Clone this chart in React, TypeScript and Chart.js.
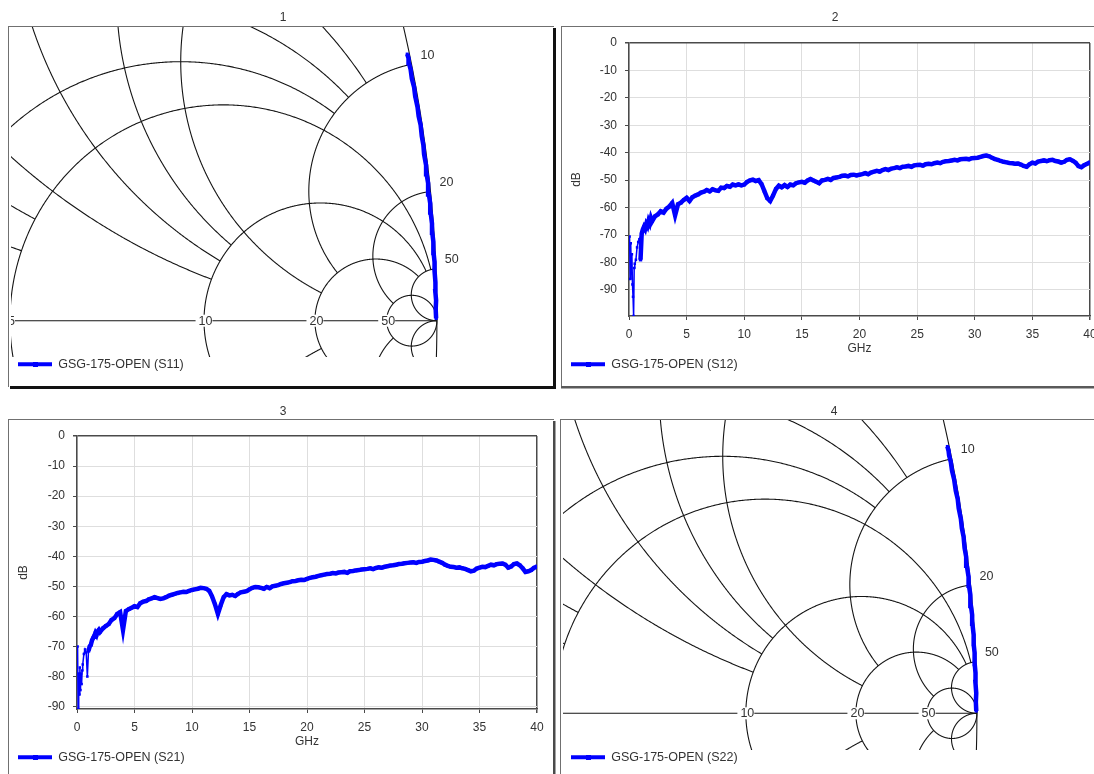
import React, { useEffect, useRef } from "react";
import { Chart, registerables } from "chart.js";

Chart.register(...registerables);

const FONT = '"Liberation Sans", Arial, Helvetica, sans-serif';
const TEXT = "#333333";
const BLUE = "#0000ff";
const PLOT_BORDER = "#4a4a4a";
const PLOT_GRID = "#dedede";
const SMITH_LINE = "#151515";
const FRAME_LINE = "#707070";
const LEGEND_FONT_SIZE = 12.5;

// ---------------- data ----------------
const FREQ_GHZ = [
  0.05, 0.1, 0.15, 0.2, 0.25, 0.3, 0.35, 0.4, 0.45, 0.5, 0.6, 0.7, 0.8, 0.9, 1.0, 1.1, 1.2, 1.3, 1.4, 1.5, 1.6, 1.7, 1.8, 1.9, 2.0,
  2.25, 2.5, 2.75, 3, 3.25, 3.5, 3.75, 4,
  4.25, 4.5, 4.75, 5, 5.25, 5.5, 5.75, 6,
  6.25, 6.5, 6.75, 7, 7.25, 7.5, 7.75, 8,
  8.25, 8.5, 8.75, 9, 9.25, 9.5, 9.75, 10,
  10.25, 10.5, 10.75, 11, 11.25, 11.5, 11.75, 12,
  12.25, 12.5, 12.75, 13, 13.25, 13.5, 13.75, 14,
  14.25, 14.5, 14.75, 15, 15.25, 15.5, 15.75, 16,
  16.25, 16.5, 16.75, 17, 17.25, 17.5, 17.75, 18,
  18.25, 18.5, 18.75, 19, 19.25, 19.5, 19.75, 20,
  20.25, 20.5, 20.75, 21, 21.25, 21.5, 21.75, 22,
  22.25, 22.5, 22.75, 23, 23.25, 23.5, 23.75, 24,
  24.25, 24.5, 24.75, 25, 25.25, 25.5, 25.75, 26,
  26.25, 26.5, 26.75, 27, 27.25, 27.5, 27.75, 28,
  28.25, 28.5, 28.75, 29, 29.25, 29.5, 29.75, 30,
  30.25, 30.5, 30.75, 31, 31.25, 31.5, 31.75, 32,
  32.25, 32.5, 32.75, 33, 33.25, 33.5, 33.75, 34,
  34.25, 34.5, 34.75, 35, 35.25, 35.5, 35.75, 36,
  36.25, 36.5, 36.75, 37, 37.25, 37.5, 37.75, 38,
  38.25, 38.5, 38.75, 39, 39.25, 39.5, 39.75, 40,
];

const S12_DB = [
  -70.5, -86, -73, -84, -77, -88, -92.5, -99.5, -82, -80.5, -79, -74.5, -72.5, -71.5, -79, -69.5, -68, -67, -67.8, -66, -66.8, -64.8, -65.8, -63.8, -65,
  -63.2, -62.5, -61.3, -61.8, -60.4, -59.6, -58.3, -62.8,
  -58.8, -58.2, -57.2, -56.4, -57.6, -56.2, -55.6, -55.2,
  -54.5, -54.2, -53.6, -54.1, -53.3, -53.7, -53.9, -52.7,
  -52.9, -52.1, -52.4, -51.6, -51.9, -51.5, -51.9, -51.6,
  -50.6, -50.1, -49.8, -50.3, -50.0, -51.4, -54.0, -56.6,
  -57.6, -55.6, -53.2, -52.0, -52.6, -51.8, -52.5, -51.6,
  -51.9, -51.1, -50.8, -50.6, -50.9, -50.1, -49.6, -50.1,
  -50.6, -51.1, -50.1, -49.9, -49.5, -49.9, -49.2, -49.0,
  -48.8, -48.4, -48.3, -48.6, -48.1, -48.0, -48.3, -48.0,
  -47.8, -47.4, -47.8, -47.2, -46.9, -46.6, -46.9, -46.3,
  -46.0, -46.3, -45.8, -45.6, -45.3, -45.6, -45.1, -45.0,
  -44.8, -45.1, -44.6, -44.5, -44.4, -44.7, -44.2, -44.0,
  -44.2, -43.8, -43.6, -43.8, -43.3, -43.1, -43.0, -42.8,
  -42.6, -42.8, -42.4, -42.3, -42.2, -42.4, -42.0, -41.9,
  -41.8, -41.5, -41.2, -41.0, -41.3, -41.8, -42.3, -42.6,
  -43.0, -43.3, -43.5, -43.7, -43.8, -44.0, -43.9, -44.3,
  -44.8, -45.1, -44.2, -43.6, -43.9, -43.2, -43.0, -42.8,
  -43.1, -42.7, -42.6, -43.0, -43.2, -43.6, -43.3, -42.6,
  -42.4, -42.9, -43.6, -44.9, -45.3, -44.5, -44.0, -43.5,
];

const S21_DB = [
  -70, -90.8, -79, -86, -77, -84.5, -79, -82.5, -78, -76, -72.5, -71, -72, -80, -71.5, -70, -69.5, -68, -67.2, -66.5, -65.5, -66.2, -65, -64.5, -65.2,
  -64.0, -63.2, -62.6, -61.2, -60.6, -59.2, -58.6, -64.5,
  -58.2, -57.6, -57.1, -56.6, -56.9, -55.6, -55.1, -54.9,
  -54.3, -54.0, -53.6, -53.9, -54.2, -54.0, -53.6, -53.1,
  -52.8, -52.5, -52.2, -52.0, -51.8, -51.9, -51.5, -51.2,
  -51.0, -50.8, -50.5, -50.6, -50.8, -51.5, -53.4, -56.0,
  -59.2, -56.2, -53.6, -52.6, -53.0, -52.8, -53.2, -52.5,
  -52.0, -51.8, -51.6, -51.0, -50.5, -50.2, -50.3, -50.5,
  -50.8, -50.2, -50.6, -50.0, -49.8, -49.6, -49.2, -49.0,
  -48.8, -48.6, -48.3, -48.2, -48.0, -47.8, -47.9, -47.5,
  -47.2, -47.0, -46.8, -46.5, -46.3, -46.1, -45.9, -45.8,
  -45.6, -45.7, -45.4, -45.3, -45.2, -45.5, -45.0, -44.9,
  -44.7, -44.6, -44.4, -44.3, -44.2, -44.0, -44.3, -43.9,
  -43.7, -43.8, -43.5, -43.3, -43.1, -43.0, -42.8, -42.6,
  -42.5, -42.3, -42.2, -42.1, -42.0, -42.2, -41.9, -41.8,
  -41.6, -41.4, -41.1, -41.2, -41.4, -41.8, -42.2, -42.8,
  -43.2, -43.5, -43.6, -43.8, -43.7, -44.0, -44.2, -44.6,
  -45.0, -44.8, -44.1, -43.8, -43.5, -43.6, -43.2, -42.8,
  -43.0, -42.6, -42.5, -42.4, -42.8, -43.8, -43.4, -42.6,
  -42.4, -43.0, -44.0, -45.2, -45.0, -44.6, -43.8, -43.4,
];

const X_TICKS = [0, 5, 10, 15, 20, 25, 30, 35, 40];
const Y_TICKS = [-90, -80, -70, -60, -50, -40, -30, -20, -10, 0];

// reflection traces (angle in degrees, magnitude)
const S11_ANG_DEG = [0.1, 0.5, 0.9, 1.3, 1.7, 2.2, 2.6, 3.0, 3.5, 3.9, 4.3, 4.8, 5.2, 5.6, 6.1, 6.5, 6.9, 7.4, 7.8, 8.2, 8.7, 9.1, 9.5, 10.0, 10.4, 10.8, 11.2, 11.5, 11.7, 11.9];
const S11_MAG = [0.9994, 0.9991, 0.9995, 0.999, 0.9993, 0.9989, 0.9992, 0.9988, 0.9991, 0.9987, 0.999, 0.9986, 0.9989, 0.9985, 0.9988, 0.9984, 0.9988, 0.9983, 0.9987, 0.9984, 0.9988, 0.9983, 0.9986, 0.9982, 0.9986, 0.9981, 0.9985, 0.9982, 0.9986, 0.9983];
const S22_ANG_DEG = [0.1, 0.5, 0.9, 1.4, 1.8, 2.2, 2.7, 3.1, 3.5, 4.0, 4.4, 4.8, 5.3, 5.7, 6.1, 6.6, 7.0, 7.4, 7.9, 8.3, 8.7, 9.2, 9.6, 10.0, 10.5, 10.9, 11.3, 11.6, 11.8, 12.0];
const S22_MAG = [0.9995, 0.9992, 0.9996, 0.9991, 0.9994, 0.999, 0.9993, 0.9989, 0.9993, 0.9989, 0.9992, 0.9988, 0.9991, 0.9987, 0.9991, 0.9987, 0.999, 0.9986, 0.999, 0.9986, 0.9989, 0.9985, 0.9989, 0.9985, 0.9988, 0.9984, 0.9988, 0.9985, 0.9988, 0.9986];

// Smith chart grid definition
const SMITH_R = [0, 0.2, 0.4, 0.6, 0.8, 1, 1.5, 2, 3, 4, 5, 10, 20, 50];
const SMITH_R_XLIM = [Infinity, 2, 2, 2, 2, 5, 5, 10, 10, 10, 50, 50, 50, Infinity];
const SMITH_X = [0.2, 0.4, 0.6, 0.8, 1, 1.5, 2, 3, 4, 5, 10, 20, 50];
const SMITH_X_RLIM = [1, 1, 2, 2, 5, 5, 10, 10, 10, 20, 20, 50, Infinity];
const SMITH_R_LABELS = [1, 2, 5, 10, 20, 50];
const SMITH_X_LABELS = [1, 2, 5, 10, 20, 50];

// visible reflection-coefficient windows of the two zoomed Smith charts
const SMITH1_VIEW = { xMin: 0.668263, xMax: 1.091429, yMin: -0.021853, yMax: 0.226795 };
const SMITH4_VIEW = { xMin: 0.675097, xMax: 1.1, yMin: -0.021556, yMax: 0.228249 };

// ---------------- helpers ----------------
function gammaOf(r: number, x: number): [number, number] {
  const d = (r + 1) * (r + 1) + x * x;
  return [(r * r - 1 + x * x) / d, (2 * x) / d];
}

type Rect = [number, number, number, number, string];

function framePlugin(rects: Rect[]) {
  return {
    id: "panelFrame",
    afterDraw(chart: any) {
      const ctx = chart.ctx;
      ctx.save();
      rects.forEach(([x1, y1, x2, y2, c]) => {
        ctx.fillStyle = c;
        ctx.fillRect(x1, y1, x2 - x1, y2 - y1);
      });
      ctx.restore();
    },
  };
}

const legendMarkerPlugin = {
  id: "legendMarker",
  afterDraw(chart: any) {
    const lg = chart.legend;
    if (!lg || !lg.legendHitBoxes) return;
    const bw = lg.options.labels.boxWidth;
    const ctx = chart.ctx;
    ctx.save();
    ctx.fillStyle = BLUE;
    lg.legendHitBoxes.forEach((hb: any) => {
      const cx = hb.left + bw / 2;
      const cy = hb.top + hb.height / 2;
      ctx.fillRect(Math.round(cx - 2.5), Math.round(cy - 2.5), 5, 5);
    });
    ctx.restore();
  },
};

function smithGridPlugin(extraBottom: number) {
  return {
    id: "smithGrid",
    beforeDatasetsDraw(chart: any) {
      const { ctx, chartArea: a, scales } = chart;
      const sx = scales.x;
      const sy = scales.y;
      const px = (v: number) => sx.getPixelForValue(v);
      const py = (v: number) => sy.getPixelForValue(v);
      ctx.save();
      ctx.beginPath();
      ctx.rect(a.left - 1, a.top, a.right - a.left + 1, a.bottom + extraBottom - a.top);
      ctx.clip();
      ctx.strokeStyle = SMITH_LINE;
      ctx.lineWidth = 1.1;
      const N = 900;
      const curve = (fn: (t: number) => [number, number], t0: number, t1: number) => {
        ctx.beginPath();
        for (let k = 0; k <= N; k++) {
          const t = t0 + ((t1 - t0) * k) / N;
          const [re, im] = fn(t);
          const X = px(re);
          const Y = py(im);
          if (k === 0) ctx.moveTo(X, Y);
          else ctx.lineTo(X, Y);
        }
        ctx.stroke();
      };
      // real axis
      ctx.beginPath();
      ctx.moveTo(px(-1), py(0));
      ctx.lineTo(px(1), py(0));
      ctx.stroke();
      // constant resistance circles
      SMITH_R.forEach((r, i) => {
        const k = r + 1;
        const lim = SMITH_R_XLIM[i];
        const U = lim === Infinity ? Math.PI / 2 - 1e-9 : Math.atan(lim / k);
        curve((u) => gammaOf(r, k * Math.tan(u)), -U, U);
      });
      // constant reactance arcs
      SMITH_X.forEach((xv, i) => {
        const lim = SMITH_X_RLIM[i];
        const s0 = Math.atan(1 / xv);
        const s1 = lim === Infinity ? Math.PI / 2 - 1e-9 : Math.atan((lim + 1) / xv);
        curve((s) => gammaOf(xv * Math.tan(s) - 1, xv), s0, s1);
        curve((s) => gammaOf(xv * Math.tan(s) - 1, -xv), s0, s1);
      });
      // labels
      ctx.font = `12.5px ${FONT}`;
      ctx.textBaseline = "middle";
      SMITH_R_LABELS.forEach((r) => {
        const X = px((r - 1) / (r + 1));
        const Y = py(0);
        const txt = String(r);
        const w = ctx.measureText(txt).width;
        ctx.fillStyle = "#ffffff";
        ctx.fillRect(X - w / 2 - 1.5, Y - 6, w + 3, 12);
        ctx.fillStyle = TEXT;
        ctx.textAlign = "center";
        ctx.fillText(txt, X + 1.5, Y + 0.5);
      });
      SMITH_X_LABELS.forEach((xv) => {
        const [re, im] = gammaOf(0, xv);
        ctx.fillStyle = TEXT;
        ctx.textAlign = "left";
        ctx.fillText(String(xv), px(re) + 9, py(im) - 9);
      });
      ctx.restore();
    },
  };
}

function legendLabels(padding: number) {
  return {
    boxWidth: 34,
    boxHeight: 4,
    padding,
    color: TEXT,
    font: { family: FONT, size: LEGEND_FONT_SIZE },
    generateLabels: (chart: any) =>
      (Chart.defaults.plugins.legend.labels as any)
        .generateLabels(chart)
        .map((l: any) => ({ ...l, lineWidth: 0, fillStyle: BLUE, strokeStyle: BLUE })),
  };
}

function titleOpts(text: string, padBottom: number) {
  return {
    display: true,
    text,
    color: TEXT,
    font: { family: FONT, size: 12, weight: "normal" as const },
    padding: { top: 10, bottom: padBottom },
  };
}

// ---------------- chart builders ----------------
function buildLine(o: {
  title: string;
  label: string;
  values: number[];
  yAxisWidth: number;
  rightWidth: number;
  titlePadBottom: number;
  layoutBottom: number;
  frame: Rect[];
}) {
  const points = FREQ_GHZ.map((f, i) => ({ x: f, y: o.values[i] }));
  const tickFont = { family: FONT, size: 12 };
  return {
    type: "line" as const,
    data: {
      datasets: [
        {
          label: o.label,
          data: points,
          borderColor: BLUE,
          backgroundColor: BLUE,
          borderWidth: 4.5,
          segment: {
            borderWidth: (c: any) => (c.p0.parsed.x < 0.95 ? 1.5 : 4.5),
          },
          pointRadius: (c: any) => (c.parsed && c.parsed.x < 0.95 ? 1.8 : 2.4),
          pointStyle: "rect",
          pointBackgroundColor: BLUE,
          pointBorderWidth: 0,
          tension: 0,
          borderJoinStyle: "miter",
          xAxisID: "x",
          yAxisID: "y",
        },
      ],
    },
    options: {
      animation: false,
      responsive: false,
      maintainAspectRatio: false,
      events: [],
      layout: { padding: { left: 8, right: 8, top: 0, bottom: o.layoutBottom } },
      plugins: {
        title: titleOpts(o.title, o.titlePadBottom),
        legend: { display: true, position: "bottom", align: "start", labels: legendLabels(2) },
        tooltip: { enabled: false },
      },
      scales: {
        x: {
          type: "linear",
          position: "bottom",
          min: 0,
          max: 40,
          afterBuildTicks: (s: any) => {
            s.ticks = X_TICKS.map((v) => ({ value: v }));
          },
          afterFit: (s: any) => {
            s.height = 40;
          },
          ticks: { color: TEXT, font: tickFont, padding: 7, maxRotation: 0, autoSkip: false },
          grid: {
            color: (c: any) => (c.tick && c.tick.value === 40 ? PLOT_BORDER : PLOT_GRID),
            lineWidth: (c: any) => (c.tick && c.tick.value === 40 ? 1.5 : 1),
            tickLength: 4,
            tickColor: PLOT_BORDER,
          },
          border: { display: true, color: PLOT_BORDER, width: 1.5 },
          title: { display: true, text: "GHz", color: TEXT, font: tickFont, padding: { top: 0, bottom: 0 } },
        },
        y: {
          type: "linear",
          position: "left",
          min: Math.min(...o.values),
          max: 0,
          afterBuildTicks: (s: any) => {
            s.ticks = Y_TICKS.map((v) => ({ value: v }));
          },
          afterFit: (s: any) => {
            s.width = o.yAxisWidth;
          },
          ticks: { color: TEXT, font: tickFont, padding: 8 },
          grid: {
            color: (c: any) => (c.tick && c.tick.value === 0 ? PLOT_BORDER : PLOT_GRID),
            lineWidth: (c: any) => (c.tick && c.tick.value === 0 ? 1.5 : 1),
            tickLength: 4,
            tickColor: PLOT_BORDER,
          },
          border: { display: true, color: PLOT_BORDER, width: 1.5 },
          title: { display: true, text: "dB", color: TEXT, font: tickFont, padding: { top: 0, bottom: 0 } },
        },
        yR: {
          type: "linear",
          position: "right",
          display: true,
          ticks: { display: false },
          grid: { display: false, drawTicks: false },
          border: { display: false },
          afterFit: (s: any) => {
            s.width = o.rightWidth;
          },
        },
      },
    },
    plugins: [legendMarkerPlugin, framePlugin(o.frame)],
  };
}

function buildSmith(o: {
  title: string;
  label: string;
  ang: number[];
  mag: number[];
  view: { xMin: number; xMax: number; yMin: number; yMax: number };
  titlePadBottom: number;
  layoutBottom: number;
  legendPad: number;
  extraBottom: number;
  frame: Rect[];
}) {
  const points = o.ang.map((a, i) => ({
    x: o.mag[i] * Math.cos((a * Math.PI) / 180),
    y: o.mag[i] * Math.sin((a * Math.PI) / 180),
  }));
  return {
    type: "scatter" as const,
    data: {
      datasets: [
        {
          label: o.label,
          data: points,
          showLine: true,
          borderColor: BLUE,
          backgroundColor: BLUE,
          borderWidth: 4.5,
          pointRadius: 2.2,
          pointStyle: "rect",
          pointBackgroundColor: BLUE,
          pointBorderWidth: 0,
        },
      ],
    },
    options: {
      animation: false,
      responsive: false,
      maintainAspectRatio: false,
      events: [],
      layout: { padding: { left: 1, right: 1, top: 0, bottom: o.layoutBottom } },
      plugins: {
        title: titleOpts(o.title, o.titlePadBottom),
        legend: { display: true, position: "bottom", align: "start", labels: legendLabels(o.legendPad) },
        tooltip: { enabled: false },
      },
      scales: {
        x: { type: "linear", display: false, min: o.view.xMin, max: o.view.xMax },
        y: { type: "linear", display: false, min: o.view.yMin, max: o.view.yMax },
      },
    },
    plugins: [smithGridPlugin(o.extraBottom), legendMarkerPlugin, framePlugin(o.frame)],
  };
}

const buildPanel1 = () =>
  buildSmith({
    title: "1",
    label: "GSG-175-OPEN (S11)",
    ang: S11_ANG_DEG,
    mag: S11_MAG,
    view: SMITH1_VIEW,
    titlePadBottom: 2.6,
    layoutBottom: 11.5,
    legendPad: 9,
    extraBottom: 8,
    frame: [
      [0, 26, 546, 27, FRAME_LINE],
      [0, 26, 1, 387, FRAME_LINE],
      [545, 28, 548, 389, "#111111"],
      [2, 386, 548, 389, "#111111"],
    ],
  });

const buildPanel2 = () =>
  buildLine({
    title: "2",
    label: "GSG-175-OPEN (S12)",
    values: S12_DB,
    yAxisWidth: 60,
    rightWidth: 11,
    titlePadBottom: 18.6,
    layoutBottom: 11.5,
    frame: [
      [0, 26, 548, 27, FRAME_LINE],
      [0, 26, 1, 388, FRAME_LINE],
      [0, 386, 548, 388.5, "#5a5a5a"],
    ],
  });

const buildPanel3 = () =>
  buildLine({
    title: "3",
    label: "GSG-175-OPEN (S21)",
    values: S21_DB,
    yAxisWidth: 61,
    rightWidth: 13,
    titlePadBottom: 17.6,
    layoutBottom: 0.5,
    frame: [
      [0, 25, 546, 26, FRAME_LINE],
      [0, 25, 1, 380, FRAME_LINE],
      [545, 27, 547.5, 380, "#4a4a4a"],
    ],
  });

const buildPanel4 = () =>
  buildSmith({
    title: "4",
    label: "GSG-175-OPEN (S22)",
    ang: S22_ANG_DEG,
    mag: S22_MAG,
    view: SMITH4_VIEW,
    titlePadBottom: 1.6,
    layoutBottom: 0.5,
    legendPad: 10,
    extraBottom: 9,
    frame: [
      [0, 25, 548, 26, FRAME_LINE],
      [0, 25, 1, 380, FRAME_LINE],
    ],
  });

function ChartCanvas(props: { left: number; top: number; width: number; height: number; build: () => any }) {
  const ref = useRef<HTMLCanvasElement | null>(null);
  useEffect(() => {
    if (!ref.current) return;
    const chart = new Chart(ref.current, props.build());
    return () => chart.destroy();
  }, []);
  return (
    <canvas
      ref={ref}
      width={props.width}
      height={props.height}
      style={{ position: "absolute", left: props.left, top: props.top, width: props.width, height: props.height }}
    />
  );
}

export default function App() {
  return (
    <div
      style={{
        position: "fixed",
        left: 0,
        top: 0,
        width: 1094,
        height: 774,
        overflow: "hidden",
        background: "#ffffff",
      }}
    >
      <ChartCanvas left={8} top={0} width={550} height={392} build={buildPanel1} />
      <ChartCanvas left={561} top={0} width={548} height={392} build={buildPanel2} />
      <ChartCanvas left={8} top={394} width={550} height={380} build={buildPanel3} />
      <ChartCanvas left={560} top={394} width={548} height={380} build={buildPanel4} />
    </div>
  );
}
